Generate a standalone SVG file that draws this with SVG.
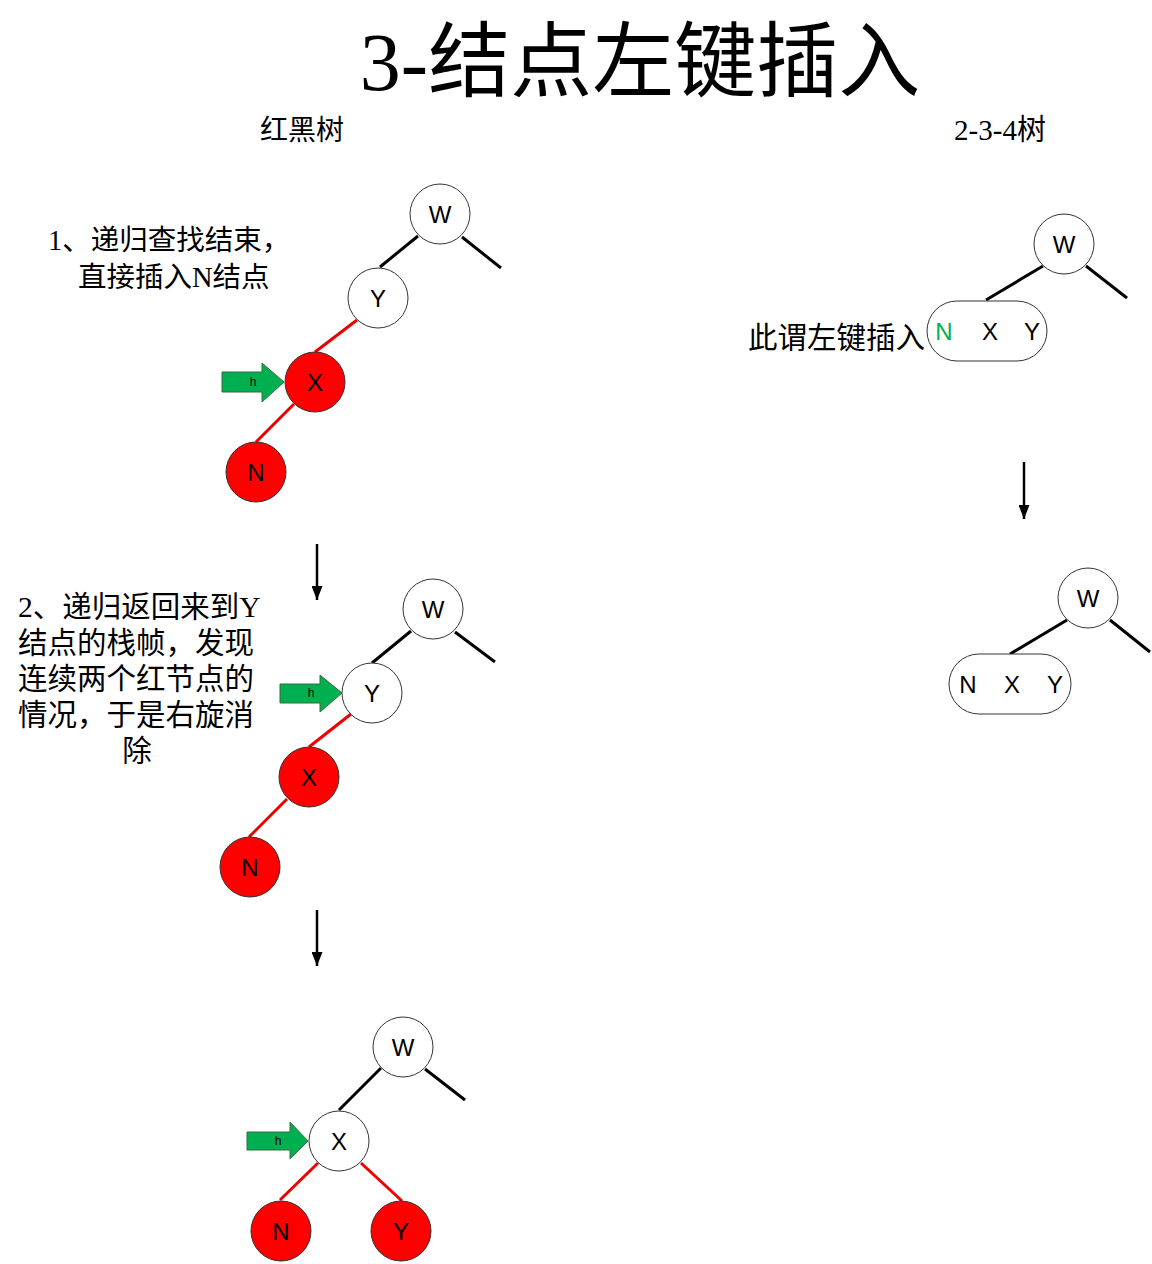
<svg xmlns="http://www.w3.org/2000/svg" width="1152" height="1264" viewBox="0 0 1152 1264">
<defs>
<marker id="ah" markerWidth="14" markerHeight="11" refX="14" refY="5.5" orient="auto" markerUnits="userSpaceOnUse" viewBox="0 0 14 11">
<path d="M0,0 L14,5.5 L0,11 Z" fill="#000"/>
</marker>
<style>
.cn{font-family:"Liberation Serif","Noto Sans CJK SC",serif;fill:#000}
.lbl{font-family:"Liberation Sans",Arial,sans-serif;font-size:24px;text-anchor:middle;fill:#000}
.w{fill:#fff;stroke:#333;stroke-width:1}
.r{fill:#f00;stroke:#333;stroke-width:1}
.bl{stroke:#000;stroke-width:3;fill:none}
.rl{stroke:#e00;stroke-width:3;fill:none}
.da{stroke:#000;stroke-width:2.5;fill:none}
.ga{fill:#00b050;stroke:#3a6a3a;stroke-width:1}
.h{font-family:"Liberation Sans",Arial,sans-serif;font-size:12px;text-anchor:middle;fill:#000}
</style>
</defs>
<rect width="1152" height="1264" fill="#fff"/>
<text class="cn" x="640" y="90" font-size="82" text-anchor="middle">3-结点左键插入</text>
<text class="cn" x="302" y="140" font-size="28" text-anchor="middle">红黑树</text>
<text class="cn" x="1000" y="140" font-size="29" text-anchor="middle">2-3-4树</text>

<g id="connectors">
<line class="bl" x1="418" y1="236" x2="380" y2="267"/>
<line class="bl" x1="462" y1="237" x2="501" y2="268"/>
<line class="rl" x1="357" y1="320" x2="315" y2="352"/>
<line class="rl" x1="294" y1="404" x2="256" y2="442"/>
<line class="bl" x1="411" y1="631" x2="372" y2="663"/>
<line class="bl" x1="455" y1="632" x2="495" y2="662"/>
<line class="rl" x1="351" y1="714" x2="309" y2="747"/>
<line class="rl" x1="287" y1="799" x2="249" y2="837"/>
<line class="bl" x1="381" y1="1068" x2="339" y2="1110"/>
<line class="bl" x1="425" y1="1069" x2="465" y2="1100"/>
<line class="rl" x1="318" y1="1163" x2="280" y2="1200"/>
<line class="rl" x1="361" y1="1163" x2="402" y2="1201"/>
<line class="bl" x1="1043" y1="266" x2="986" y2="300"/>
<line class="bl" x1="1086" y1="266" x2="1127" y2="298"/>
<line class="bl" x1="1067" y1="620" x2="1010" y2="654"/>
<line class="bl" x1="1110" y1="620" x2="1150" y2="652"/>
<line class="da" x1="317" y1="544" x2="317" y2="600" marker-end="url(#ah)"/>
<line class="da" x1="317" y1="910" x2="317" y2="966" marker-end="url(#ah)"/>
<line class="da" x1="1024" y1="462" x2="1024" y2="519" marker-end="url(#ah)"/>
</g>

<text class="cn" font-size="28.5"><tspan x="48" y="250">1、递归查找结束，</tspan><tspan x="78" y="287">直接插入N结点</tspan></text>
<text class="cn" font-size="29.5"><tspan x="18" y="617">2、递归返回来到Y</tspan><tspan x="18" y="653">结点的栈帧，发现</tspan><tspan x="18" y="689">连续两个红节点的</tspan><tspan x="18" y="725">情况，于是右旋消</tspan><tspan x="137" y="761" text-anchor="middle">除</tspan></text>
<text class="cn" x="748" y="348" font-size="29.5">此谓左键插入</text>

<g id="s1-W"><circle class="w" cx="440" cy="214" r="30"/><text class="lbl" x="440" y="223">W</text></g>
<g id="s1-Y"><circle class="w" cx="378" cy="298" r="30"/><text class="lbl" x="378" y="307">Y</text></g>
<g id="s1-X"><circle class="r" cx="315" cy="382" r="30"/><text class="lbl" x="315" y="391">X</text></g>
<g id="s1-N"><circle class="r" cx="256" cy="472" r="30"/><text class="lbl" x="256" y="481">N</text></g>
<g id="s1-h"><path class="ga" d="M222,372 L262,372 L262,363 L284,382 L262,402 L262,392 L222,392 Z"/><text class="h" x="253" y="386">h</text></g>

<g id="s2-W"><circle class="w" cx="433" cy="609" r="30"/><text class="lbl" x="433" y="618">W</text></g>
<g id="s2-Y"><circle class="w" cx="372" cy="693" r="30"/><text class="lbl" x="372" y="702">Y</text></g>
<g id="s2-X"><circle class="r" cx="309" cy="777" r="30"/><text class="lbl" x="309" y="786">X</text></g>
<g id="s2-N"><circle class="r" cx="250" cy="867" r="30"/><text class="lbl" x="250" y="876">N</text></g>
<g id="s2-h"><path class="ga" d="M280,684 L320,684 L320,675 L342,693 L320,712 L320,703 L280,703 Z"/><text class="h" x="311" y="697">h</text></g>

<g id="s3-W"><circle class="w" cx="403" cy="1047" r="30"/><text class="lbl" x="403" y="1056">W</text></g>
<g id="s3-X"><circle class="w" cx="339" cy="1141" r="30"/><text class="lbl" x="339" y="1150">X</text></g>
<g id="s3-N"><circle class="r" cx="281" cy="1231" r="30"/><text class="lbl" x="281" y="1240">N</text></g>
<g id="s3-Y"><circle class="r" cx="401" cy="1231" r="30"/><text class="lbl" x="401" y="1240">Y</text></g>
<g id="s3-h"><path class="ga" d="M247,1132 L290,1132 L290,1122 L308,1141 L290,1159 L290,1150 L247,1150 Z"/><text class="h" x="278" y="1145">h</text></g>

<g id="t1-W"><circle class="w" cx="1064" cy="244" r="30"/><text class="lbl" x="1064" y="253">W</text></g>
<g id="t1-NXY"><rect class="w" x="927" y="301" width="120" height="60" rx="30"/><text class="lbl" x="944" y="340" style="fill:#00b050">N</text><text class="lbl" x="990" y="340">X</text><text class="lbl" x="1032" y="340">Y</text></g>

<g id="t2-W"><circle class="w" cx="1088" cy="598" r="30"/><text class="lbl" x="1088" y="607">W</text></g>
<g id="t2-NXY"><rect class="w" x="949" y="654" width="122" height="60" rx="30"/><text class="lbl" x="968" y="693">N</text><text class="lbl" x="1012" y="693">X</text><text class="lbl" x="1055" y="693">Y</text></g>
</svg>
